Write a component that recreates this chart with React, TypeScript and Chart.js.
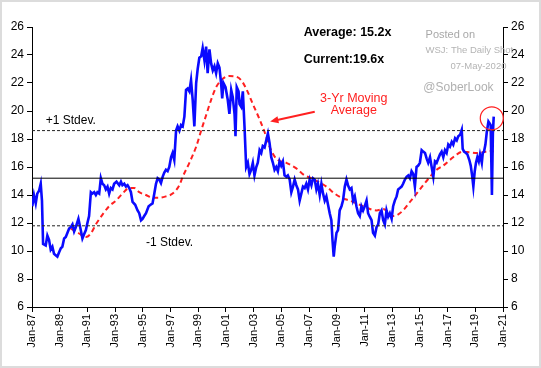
import React, { useEffect, useRef } from "react";
import { Chart, registerables } from "chart.js";

Chart.register(...registerables);

// ---- data ----
const blueYears = [
  1987.02, 1987.14, 1987.27, 1987.38, 1987.51, 1987.63, 1987.72, 1987.8, 1987.99, 1988.11,
  1988.23, 1988.35, 1988.47, 1988.59, 1988.71, 1988.83, 1988.95, 1989.08, 1989.19, 1989.32,
  1989.44, 1989.56, 1989.68, 1989.8, 1989.92, 1990.04, 1990.16, 1990.35, 1990.52, 1990.64,
  1990.76, 1990.89, 1991.0, 1991.12, 1991.25, 1991.36, 1991.49, 1991.61, 1991.72, 1991.85,
  1991.97, 1992.09, 1992.21, 1992.33, 1992.45, 1992.57, 1992.69, 1992.81, 1992.93, 1993.1,
  1993.3, 1993.42, 1993.53, 1993.66, 1993.78, 1993.9, 1994.02, 1994.14, 1994.26, 1994.45,
  1994.62, 1994.74, 1994.87, 1994.98, 1995.1, 1995.23, 1995.42, 1995.56, 1995.7, 1995.83,
  1995.95, 1996.07, 1996.19, 1996.31, 1996.43, 1996.55, 1996.67, 1996.79, 1996.91, 1997.04,
  1997.15, 1997.27, 1997.4, 1997.51, 1997.64, 1997.76, 1997.88, 1998.0, 1998.12, 1998.24,
  1998.36, 1998.48, 1998.6, 1998.72, 1998.85, 1998.96, 1999.08, 1999.21, 1999.32, 1999.45,
  1999.57, 1999.68, 1999.81, 1999.93, 2000.05, 2000.17, 2000.29, 2000.41, 2000.53, 2000.65,
  2000.73, 2000.82, 2000.97, 2001.13, 2001.25, 2001.38, 2001.49, 2001.62, 2001.69, 2001.78,
  2001.91, 2001.98, 2002.1, 2002.22, 2002.34, 2002.46, 2002.58, 2002.7, 2002.82, 2002.94,
  2003.06, 2003.19, 2003.3, 2003.43, 2003.55, 2003.66, 2003.79, 2003.91, 2004.03, 2004.15,
  2004.27, 2004.39, 2004.51, 2004.63, 2004.75, 2004.87, 2004.99, 2005.11, 2005.23, 2005.36,
  2005.47, 2005.6, 2005.72, 2005.84, 2005.96, 2006.08, 2006.2, 2006.32, 2006.44, 2006.56,
  2006.68, 2006.8, 2006.92, 2007.04, 2007.17, 2007.28, 2007.41, 2007.53, 2007.64, 2007.77,
  2007.89, 2008.01, 2008.13, 2008.25, 2008.37, 2008.49, 2008.61, 2008.69, 2008.78, 2008.85,
  2008.98, 2009.09, 2009.21, 2009.34, 2009.45, 2009.58, 2009.7, 2009.81, 2009.94, 2010.06,
  2010.18, 2010.3, 2010.42, 2010.54, 2010.66, 2010.78, 2010.9, 2011.02, 2011.15, 2011.26,
  2011.38, 2011.51, 2011.62, 2011.75, 2011.87, 2011.99, 2012.11, 2012.23, 2012.35, 2012.47,
  2012.59, 2012.71, 2012.83, 2012.96, 2013.07, 2013.19, 2013.32, 2013.43, 2013.56, 2013.68,
  2013.79, 2013.92, 2014.04, 2014.16, 2014.28, 2014.4, 2014.52, 2014.64, 2014.76, 2014.88,
  2015.0, 2015.13, 2015.24, 2015.37, 2015.49, 2015.6, 2015.73, 2015.85, 2015.97, 2016.09,
  2016.21, 2016.33, 2016.45, 2016.57, 2016.69, 2016.81, 2016.93, 2017.05, 2017.17, 2017.3,
  2017.41, 2017.54, 2017.66, 2017.77, 2017.9, 2018.02, 2018.09, 2018.19, 2018.33, 2018.43,
  2018.57, 2018.67, 2018.77, 2018.86, 2018.96, 2019.05, 2019.15, 2019.25, 2019.34, 2019.47,
  2019.54, 2019.63, 2019.73, 2019.83, 2019.95, 2020.05, 2020.11, 2020.2, 2020.27, 2020.33,
];
const blueValues = [
  13.2, 14.0, 13.4, 14.1, 14.3, 14.8, 13.6, 10.5, 10.4, 11.1,
  10.8, 10.1, 10.3, 9.8, 9.7, 9.6, 9.9, 10.2, 10.3, 10.9,
  11.0, 11.3, 11.6, 11.7, 11.9, 11.4, 11.7, 12.3, 11.5, 10.9,
  11.2, 11.5, 12.0, 12.5, 14.2, 14.1, 14.2, 14.0, 14.2, 14.1,
  15.2, 14.8, 14.7, 14.4, 14.6, 14.1, 14.5, 14.4, 14.8, 14.95,
  14.7, 14.95, 14.7, 14.8, 14.6, 14.7, 14.5, 14.2, 13.5, 13.3,
  12.9, 12.7, 12.2, 12.3, 12.5, 12.7, 13.2, 13.3, 13.4, 14.1,
  14.8, 15.2, 15.1, 14.85, 15.3, 15.6, 15.8, 15.7, 16.0, 16.7,
  17.0, 16.5, 18.6, 18.9, 18.6, 19.0, 18.9, 19.6, 21.5, 21.6,
  21.4, 22.2, 20.8, 18.9, 22.0, 23.0, 23.8, 23.9, 24.5, 23.6,
  24.6, 22.7, 24.4, 23.4, 22.9, 23.2, 22.7, 23.4, 23.1, 22.0,
  20.9, 22.0, 21.7, 20.8, 19.8, 21.5, 21.0, 19.8, 18.2, 21.7,
  21.4, 20.5, 20.3, 21.4, 18.9, 16.0, 16.3, 15.5, 15.8, 16.3,
  15.4, 16.0, 16.3, 17.2, 17.0, 17.5, 17.4, 17.9, 18.4, 17.7,
  16.7, 16.3, 15.8, 16.0, 15.7, 16.4, 16.1, 16.4, 15.4, 15.3,
  15.4, 15.1, 14.2, 14.6, 15.1, 14.7, 14.4, 13.6, 14.1, 14.6,
  14.5, 14.8, 14.4, 15.1, 14.7, 15.2, 15.1, 14.4, 14.8, 14.0,
  14.8, 14.1, 13.6, 13.9, 13.3, 12.7, 12.2, 10.8, 9.6, 10.3,
  11.3, 11.5, 12.9, 13.2, 13.6, 14.6, 15.1, 14.7, 14.4, 14.5,
  13.6, 13.9, 13.2, 12.7, 12.5, 13.2, 12.9, 13.2, 13.6, 12.7,
  12.45, 12.2, 11.3, 11.1, 11.7, 11.9, 12.7, 12.9, 12.2, 11.9,
  12.9, 12.45, 12.7, 12.3, 13.2, 13.6, 13.9, 14.4, 14.5, 14.6,
  14.8, 15.1, 15.3, 15.4, 15.2, 15.7, 15.5, 14.6, 16.0, 16.1,
  16.3, 17.2, 17.1, 17.0, 16.6, 16.3, 16.7, 16.0, 15.3, 16.4,
  16.3, 16.6, 16.9, 17.1, 16.7, 17.2, 17.0, 17.6, 17.45, 17.8,
  17.6, 18.05, 17.9, 18.2, 18.3, 18.65, 17.3, 17.1, 17.0, 16.9,
  16.5, 16.1, 15.4, 14.6, 15.7, 16.3, 16.7, 16.4, 16.9, 16.3,
  17.0, 17.1, 17.6, 18.5, 19.25, 19.1, 19.0, 14.0, 18.4, 19.6,
];

const maYears = [
  1989.8, 1990.4, 1990.89, 1991.25, 1991.61, 1992.09, 1992.57, 1993.06, 1993.53, 1994.02,
  1994.38, 1994.74, 1995.23, 1995.7, 1996.19, 1996.67, 1997.15, 1997.64, 1997.88, 1998.36,
  1998.85, 1999.21, 1999.57, 1999.93, 2000.29, 2000.77, 2001.25, 2001.74, 2002.1, 2002.46,
  2002.94, 2003.43, 2003.79, 2004.15, 2004.63, 2005.36, 2006.08, 2006.68, 2007.17, 2007.64,
  2008.25, 2008.85, 2009.34, 2009.94, 2010.66, 2011.26, 2011.87, 2012.35, 2012.71, 2013.07,
  2013.32, 2013.79, 2014.28, 2014.76, 2015.24, 2015.73, 2016.21, 2016.69, 2017.17, 2017.66,
  2018.14, 2018.62, 2019.1, 2019.58, 2020.07, 2020.33,
];
const maValues = [
  11.6, 11.25, 11.0, 11.25, 11.9, 12.6, 13.2, 13.6, 14.1, 14.5,
  14.5, 14.2, 14.0, 13.8, 13.8, 13.9, 14.1, 14.7, 15.3, 16.3,
  17.45, 18.6, 19.7, 20.8, 21.7, 22.3, 22.5, 22.45, 22.2, 21.6,
  20.5, 19.4, 18.5, 17.45, 16.6, 16.3, 15.9, 15.4, 15.2, 14.95,
  14.6, 14.1, 13.8, 13.6, 13.3, 13.05, 12.9, 13.0, 12.8, 12.5,
  12.55, 12.9, 13.5, 14.1, 14.7, 15.3, 15.8, 16.1, 16.5, 16.9,
  17.1, 17.05, 17.0, 17.05, 17.15, 17.1,
];

const averageValue = 15.2;
const plusOneStdev = 18.6;
const minusOneStdev = 11.8;
const xMin = 1987;
const xMax = 2021;
const yMin = 6;
const yMax = 26;

const FONT = "'Liberation Sans', Arial, sans-serif";

const pts = (xs: number[], ys: number[]) => xs.map((x, i) => ({ x, y: ys[i] }));
const flat = (v: number) => [{ x: xMin, y: v }, { x: xMax, y: v }];

const annotationPlugin = {
  id: "annots",
  beforeDraw(chart: any) {
    const ctx = chart.ctx;
    ctx.save();
    ctx.fillStyle = "#fff";
    ctx.fillRect(0, 0, chart.width, chart.height);
    ctx.strokeStyle = "#dcdcdc";
    ctx.lineWidth = 2;
    ctx.strokeRect(1, 1, chart.width - 2, chart.height - 2);
    ctx.restore();
  },
  afterDatasetsDraw(chart: any) {
    const ctx = chart.ctx;
    const xs = chart.scales.x;
    const ys = chart.scales.y;
    const X = (v: number) => xs.getPixelForValue(v);
    const Y = (v: number) => ys.getPixelForValue(v);
    ctx.save();
    ctx.textBaseline = "middle";

    const text = (s: string, x: number, y: number, font: string, color: string, align: string) => {
      ctx.font = font;
      ctx.fillStyle = color;
      ctx.textAlign = align;
      ctx.fillText(s, x, y);
    };

    text("Average: 15.2x", X(2006.61), Y(25.62), `bold 12.5px ${FONT}`, "#000", "left");
    text("Current:19.6x", X(2006.61), Y(23.64), `bold 12.5px ${FONT}`, "#000", "left");
    text("Posted on", X(2015.41), Y(25.43), `11px ${FONT}`, "#a8a8a8", "left");
    text("WSJ: The Daily Shot", X(2015.41), Y(24.31), `9.5px ${FONT}`, "#b4b4b4", "left");
    text("07-May-2020", X(2021.25), Y(23.16), `9.5px ${FONT}`, "#b4b4b4", "right");
    text("@SoberLook", X(2015.25), Y(21.69), `12px ${FONT}`, "#b0b0b0", "left");
    text("3-Yr Moving", X(2010.23), Y(20.91), `12.5px ${FONT}`, "#ff2020", "center");
    text("Average", X(2010.23), Y(20.0), `12.5px ${FONT}`, "#ff2020", "center");
    text("+1 Stdev.", X(1987.99), Y(19.29), `12px ${FONT}`, "#000", "left");
    text("-1 Stdev.", X(1995.23), Y(10.59), `12px ${FONT}`, "#000", "left");

    // arrow
    const x1 = X(2007.41), y1 = Y(19.95);
    const x2 = X(2004.19), y2 = Y(19.25);
    const ang = Math.atan2(y2 - y1, x2 - x1);
    const head = 9;
    ctx.strokeStyle = "#ff2020";
    ctx.fillStyle = "#ff2020";
    ctx.lineWidth = 2;
    ctx.beginPath();
    ctx.moveTo(x1, y1);
    ctx.lineTo(x2 - Math.cos(ang) * head * 0.8, y2 - Math.sin(ang) * head * 0.8);
    ctx.stroke();
    ctx.beginPath();
    ctx.moveTo(x2, y2);
    ctx.lineTo(x2 - head * Math.cos(ang - 0.4), y2 - head * Math.sin(ang - 0.4));
    ctx.lineTo(x2 - head * Math.cos(ang + 0.4), y2 - head * Math.sin(ang + 0.4));
    ctx.closePath();
    ctx.fill();

    // circle
    ctx.lineWidth = 1.2;
    ctx.beginPath();
    ctx.arc(X(2020.19), Y(19.48), 11.5, 0, Math.PI * 2);
    ctx.stroke();
    ctx.restore();
  },
};

export default function App() {
  const ref = useRef<HTMLCanvasElement | null>(null);

  useEffect(() => {
    document.body.style.margin = "0";
    const canvas = ref.current;
    if (!canvas) return;
    const axisCommon = {
      grid: { display: true, drawOnChartArea: false, drawTicks: true, tickLength: 5, color: "#000", lineWidth: 1 },
      border: { display: true, color: "#000", width: 1 },
    };
    const yTicks = {
      stepSize: 2,
      color: "#000",
      padding: 3,
      font: { family: FONT, size: 12 },
    };
    const chart = new Chart(canvas, {
      type: "line",
      data: {
        datasets: [
          {
            label: "Average",
            data: flat(averageValue),
            borderColor: "#000",
            borderWidth: 1,
            pointRadius: 0,
          },
          {
            label: "+1 Stdev",
            data: flat(plusOneStdev),
            borderColor: "#222",
            borderWidth: 1,
            borderDash: [3, 2],
            pointRadius: 0,
          },
          {
            label: "-1 Stdev",
            data: flat(minusOneStdev),
            borderColor: "#222",
            borderWidth: 1,
            borderDash: [3, 2],
            pointRadius: 0,
          },
          {
            label: "Forward P/E",
            data: pts(blueYears, blueValues),
            borderColor: "#0a0aff",
            borderWidth: 2.6,
            pointRadius: 0,
            tension: 0,
          },
          {
            label: "3-Yr Moving Average",
            data: pts(maYears, maValues),
            borderColor: "#ff2020",
            borderWidth: 2,
            borderDash: [5, 3.5],
            pointRadius: 0,
            cubicInterpolationMode: "monotone",
          },
        ],
      },
      options: {
        responsive: false,
        animation: false,
        layout: { padding: { top: 27, left: 0, right: 0, bottom: 0 } },
        plugins: { legend: { display: false }, tooltip: { enabled: false } },
        scales: {
          x: {
            type: "linear",
            min: xMin,
            max: xMax,
            ...axisCommon,
            ticks: {
              stepSize: 2,
              autoSkip: false,
              maxRotation: 90,
              minRotation: 90,
              color: "#000",
              padding: 2,
              font: { family: FONT, size: 11 },
              callback: (v: any) => "Jan-" + String(Math.round(v) % 100).padStart(2, "0"),
            },
            afterFit: (s: any) => {
              s.height = 61;
            },
          },
          y: {
            type: "linear",
            position: "left",
            min: yMin,
            max: yMax,
            ...axisCommon,
            ticks: yTicks,
            afterFit: (s: any) => {
              s.width = 32;
            },
          },
          y2: {
            type: "linear",
            position: "right",
            min: yMin,
            max: yMax,
            ...axisCommon,
            ticks: yTicks,
            afterFit: (s: any) => {
              s.width = 38;
            },
          },
        },
      } as any,
      plugins: [annotationPlugin],
    });
    return () => chart.destroy();
  }, []);

  return (
    <div style={{ width: 541, height: 368 }}>
      <canvas ref={ref} width={541} height={368} style={{ display: "block" }} />
    </div>
  );
}
